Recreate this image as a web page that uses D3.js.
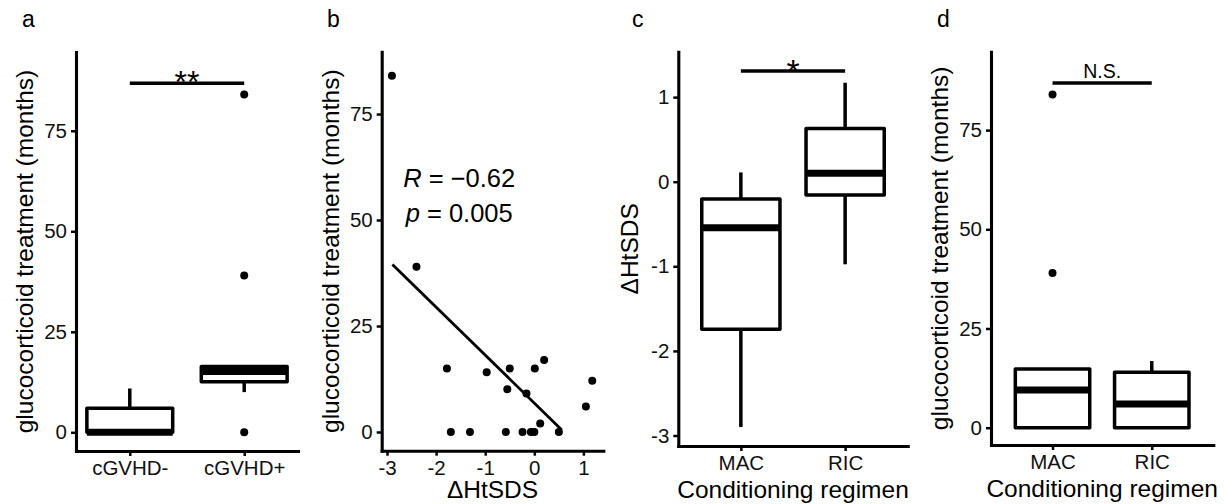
<!DOCTYPE html>
<html>
<head>
<meta charset="utf-8">
<script src="https://cdn.jsdelivr.net/npm/d3@7"></script>
<style>
body { margin: 0; background: #fff; }
svg { display: block; font-family: "Liberation Sans", Arial, sans-serif; }
</style>
</head>
<body>
<div id="chart"></div>
<script>

// ------------------------------ Data ------------------------------

// panel a: glucocorticoid months by cGVHD
var groupsA = ["cGVHD-", "cGVHD+"];
var q1A  = [0, 12.6];
var medA = [0, 15.1];
var q3A  = [6.0, 16.4];
var loA  = [0, 10.0];
var hiA  = [10.9, 16.4];
var outA = [[], [84, 39, 0]];
var bracketA = 86.8, sigA = "**";

// panel b: scatter dHtSDS vs months
var dHtSDS   = [-2.90, -2.40, -1.78, -1.70, -1.31, -0.97, -0.50, -0.55, -0.58, -0.16, -0.24, -0.07, 0.00, 0.01, 0.20, 0.12, 0.50, 1.05, 1.18];
var gcMonths = [84.0, 39.0, 15.0, 0, 0, 14.1, 15.0, 10.1, 0, 9.1, 0, 0, 0, 15.0, 17.0, 2.0, 0, 6.0, 12.1];
var fitX = [-2.89, 0.56];
var fitY = [39.5, 0.5];
var corR = "−0.62", corP = "0.005";
var xTicksB = [-3, -2, -1, 0, 1];

// panel c: dHtSDS by conditioning regimen
var groupsC = ["MAC", "RIC"];
var q1C  = [-1.745, -0.157];
var medC = [-0.544, 0.099];
var q3C  = [-0.204, 0.63];
var loC  = [-2.90, -0.976];
var hiC  = [0.11, 1.17];
var outC = [[], []];
var bracketC = 1.31, sigC = "*";
var yTicksC = [-3, -2, -1, 0, 1];

// panel d: months by conditioning regimen
var groupsD = ["MAC", "RIC"];
var q1D  = [0, 0];
var medD = [9.5, 6.0];
var q3D  = [14.8, 14.0];
var loD  = [0, 0];
var hiD  = [14.8, 16.8];
var outD = [[84, 39], []];
var bracketD = 86.9, sigD = "N.S.";

var yTicksMonths = [0, 25, 50, 75];

// ------------------------------ Layout ------------------------------

var W = 1224, H = 504;
var tickFont = 20.5, titleFont = 24.5;
var lineW = 3.5, axisW = 3.1;

var svg = d3.select("#chart").append("svg").attr("width", W).attr("height", H);

function frameScales(fr)
{
	fr.y = d3.scaleLinear().domain(fr.yDom).range([fr.bottom, fr.top]);
	return fr;
}

function drawAxes(fr, xScale, yTicks, xTicks, xTitle, yTitle)
{
	var yAxis = d3.axisLeft(fr.y).tickValues(yTicks).tickFormat(d3.format("d"))
		.tickSize(5).tickPadding(4).tickSizeOuter(0);
	var gy = svg.append("g").attr("transform", `translate(${fr.left},0)`).call(yAxis);

	var xAxis = d3.axisBottom(xScale).tickSize(5).tickPadding(4.4).tickSizeOuter(0);
	if (xTicks) xAxis.tickValues(xTicks).tickFormat(d3.format("d"));
	var gx = svg.append("g").attr("transform", `translate(0,${fr.bottom})`).call(xAxis);

	[gx, gy].forEach(g =>
	{
		g.select(".domain").attr("stroke", "#000").attr("stroke-width", axisW).attr("stroke-linecap", "square");
		g.selectAll(".tick line").attr("stroke", "#000").attr("stroke-width", 2.5);
		g.selectAll(".tick text").attr("fill", "#111").style("font-size", tickFont + "px")
			.text(function() { return this.textContent.replace("−", "-"); });
	});

	svg.append("text")
		.attr("transform", `translate(${fr.yTitleX},${(fr.top + fr.bottom) / 2}) rotate(-90)`)
		.attr("text-anchor", "middle")
		.style("font-size", titleFont + "px")
		.text(yTitle);

	if (xTitle)
	{
		// keep the title (with its descent) inside the 504px frame
		svg.append("text")
			.attr("x", (fr.left + fr.right) / 2)
			.attr("y", Math.min(fr.bottom + 52, 498))
			.attr("text-anchor", "middle")
			.style("font-size", titleFont + "px")
			.text(xTitle);
	}

	svg.append("text")
		.attr("x", fr.letterX).attr("y", 27)
		.style("font-size", "23px")
		.text(fr.letter);
}

function drawBoxes(fr, groups, q1, med, q3, lo, hi, outs)
{
	var x = d3.scalePoint().domain(groups).range([fr.left, fr.right]).padding(fr.pad);
	var bw = x.step() * 0.75;
	var y = fr.y;

	var rows = groups.map((g, i) => ({g: g, q1: q1[i], med: med[i], q3: q3[i], lo: lo[i], hi: hi[i], out: outs[i]}));

	var bx = svg.append("g").selectAll("g").data(rows).enter().append("g");

	bx.append("line")
		.attr("x1", d => x(d.g)).attr("x2", d => x(d.g))
		.attr("y1", d => y(d.hi)).attr("y2", d => y(d.q3))
		.attr("stroke", "#000").attr("stroke-width", lineW);
	bx.append("line")
		.attr("x1", d => x(d.g)).attr("x2", d => x(d.g))
		.attr("y1", d => y(d.q1)).attr("y2", d => y(d.lo))
		.attr("stroke", "#000").attr("stroke-width", lineW);
	bx.append("rect")
		.attr("x", d => x(d.g) - bw / 2).attr("width", bw)
		.attr("y", d => y(d.q3)).attr("height", d => y(d.q1) - y(d.q3))
		.attr("fill", "#fff").attr("stroke", "#000").attr("stroke-width", lineW)
		.attr("stroke-linejoin", "round");
	bx.append("line")
		.attr("x1", d => x(d.g) - bw / 2).attr("x2", d => x(d.g) + bw / 2)
		.attr("y1", d => y(d.med)).attr("y2", d => y(d.med))
		.attr("stroke", "#000").attr("stroke-width", lineW * 2);

	bx.selectAll("circle").data(d => d.out.map(v => ({g: d.g, v: v}))).enter()
		.append("circle")
		.attr("cx", d => x(d.g)).attr("cy", d => y(d.v)).attr("r", 4)
		.attr("fill", "#000");

	return x;
}

function drawBracket(fr, x, groups, level, label, size, raise)
{
	var yy = fr.y(level);
	svg.append("line")
		.attr("x1", x(groups[0])).attr("x2", x(groups[1]))
		.attr("y1", yy).attr("y2", yy)
		.attr("stroke", "#000").attr("stroke-width", lineW);
	svg.append("text")
		.attr("x", (x(groups[0]) + x(groups[1])) / 2)
		.attr("y", yy + raise)
		.attr("text-anchor", "middle")
		.style("font-size", size + "px")
		.text(label);
}

// ---------- panel a
var frA = frameScales({letter: "a", letterX: 22, left: 76, right: 298, top: 52, bottom: 451, yDom: [-4.65, 94.6], pad: 0.47, yTitleX: 33});
var xA = drawBoxes(frA, groupsA, q1A, medA, q3A, loA, hiA, outA);
drawBracket(frA, xA, groupsA, bracketA, sigA, 32, 10);
drawAxes(frA, xA, yTicksMonths, null, null, "glucocorticoid treatment (months)");

// ---------- panel b
var frB = frameScales({letter: "b", letterX: 327, left: 381.7, right: 603.3, top: 51.7, bottom: 450.7, yDom: [-4.41, 89.7], yTitleX: 338.5});
var xB = d3.scaleLinear().domain([-3.108, 1.405]).range([frB.left, frB.right]);

svg.append("line")
	.attr("x1", xB(fitX[0])).attr("x2", xB(fitX[1]))
	.attr("y1", frB.y(fitY[0])).attr("y2", frB.y(fitY[1]))
	.attr("stroke", "#000").attr("stroke-width", 2.8);

svg.append("g").selectAll("circle")
	.data(dHtSDS.map((v, i) => [v, gcMonths[i]]))
	.enter().append("circle")
	.attr("cx", d => xB(d[0])).attr("cy", d => frB.y(d[1])).attr("r", 4)
	.attr("fill", "#000");

var corText = svg.append("g").attr("text-anchor", "middle").style("font-size", "25.5px");
var t1 = corText.append("text").attr("x", xB(-1.53)).attr("y", frB.y(57.9));
t1.append("tspan").style("font-style", "italic").text("R");
t1.append("tspan").text(" = " + corR);
var t2 = corText.append("text").attr("x", xB(-1.53)).attr("y", frB.y(49.6));
t2.append("tspan").style("font-style", "italic").text("p");
t2.append("tspan").text(" = " + corP);

drawAxes(frB, xB, yTicksMonths, xTicksB, "ΔHtSDS", "glucocorticoid treatment (months)");

// ---------- panel c
var frC = frameScales({letter: "c", letterX: 632, left: 678.3, right: 907.7, top: 51.7, bottom: 446, yDom: [-3.124, 1.537], pad: 0.6, yTitleX: 638});
var xC = drawBoxes(frC, groupsC, q1C, medC, q3C, loC, hiC, outC);
drawBracket(frC, xC, groupsC, bracketC, sigC, 34, 12.5);
drawAxes(frC, xC, yTicksC, null, "Conditioning regimen", "ΔHtSDS");

// ---------- panel d
var frD = frameScales({letter: "d", letterX: 937, left: 991, right: 1213.3, top: 51.7, bottom: 445, yDom: [-4.36, 94.76], pad: 0.62, yTitleX: 948});
var xD = drawBoxes(frD, groupsD, q1D, medD, q3D, loD, hiD, outD);
drawBracket(frD, xD, groupsD, bracketD, sigD, 19.5, -5);
drawAxes(frD, xD, yTicksMonths, null, "Conditioning regimen", "glucocorticoid treatment (months)");

</script>
</body>
</html>
